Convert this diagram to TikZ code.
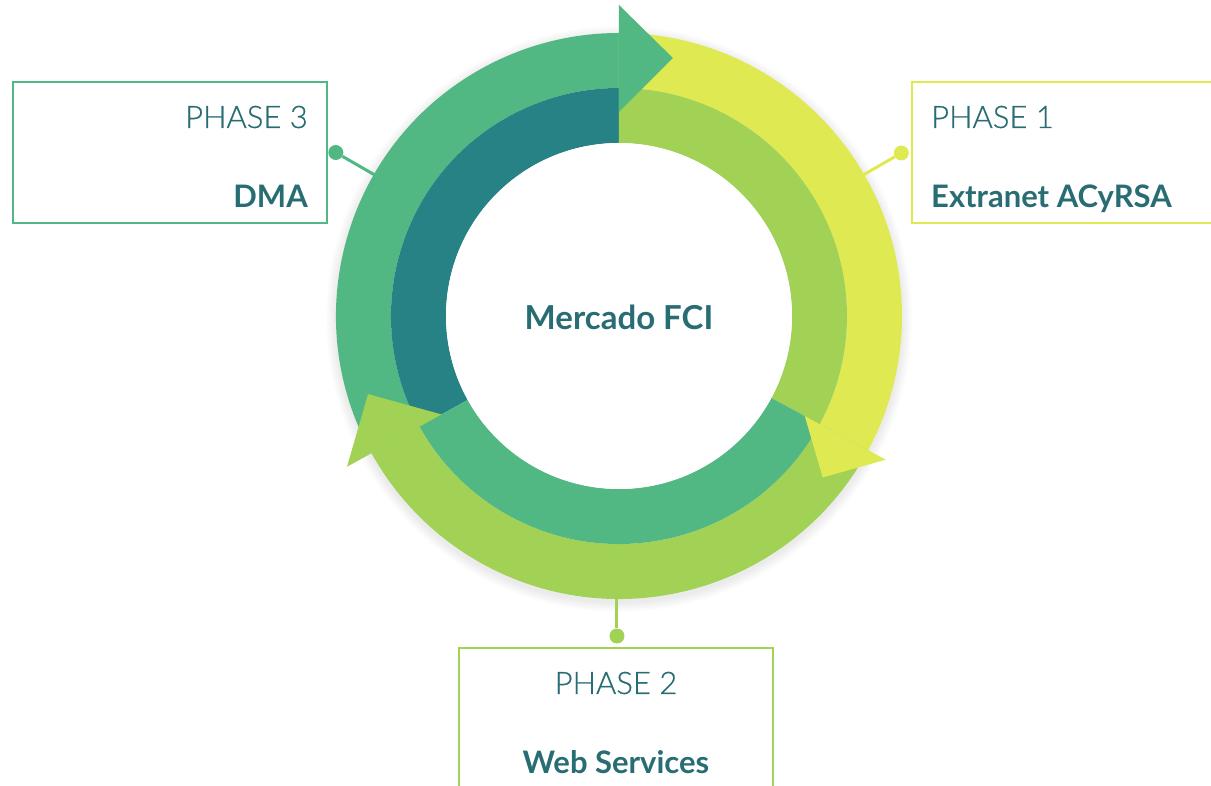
\documentclass[tikz,border=0pt]{standalone}
\usepackage{fontspec}
\setmainfont{Lato}
\newfontfamily\lightfont{Lato Light}[FakeBold=0.6]

\definecolor{phasegreen}{HTML}{52B883}
\definecolor{phaseyellow}{HTML}{DFEA52}
\definecolor{phaselime}{HTML}{A1D255}
\definecolor{phaseteal}{HTML}{268285}
\definecolor{phasetext}{HTML}{286C74}

\begin{document}
\begin{tikzpicture}[x=1pt,y=1pt,
    phasebox/.style={draw=#1, line width=1.5pt, minimum width=314pt, minimum height=141pt, inner sep=0pt},
    phasedot/.style={circle, fill=#1, minimum size=15pt, inner sep=0pt},
    phaselink/.style={draw=#1, line width=3pt},
    phasetitle/.style={font=\lightfont\fontsize{31}{36}\selectfont, text=phasetext, inner sep=0pt},
    phasename/.style={font=\bfseries\fontsize{31}{36}\selectfont, text=phasetext, inner sep=0pt}]
    \useasboundingbox (-619,-470) rectangle (592,316);

    % soft shadow round the ring
    \foreach \i in {1,...,10}
        \fill[black, opacity=0.007] (0,-3) circle (283+\i);

    % boxes and their links
    \node[phasebox=phasegreen] (p3box) at (-449,163.5) {};
    \node[phasebox=phaseyellow] (p1box) at (450,163.5) {};
    \node[phasebox=phaselime] (p2box) at (-3,-402.5) {};

    \node[phasedot=phasegreen] (p3dot) at (150:327) {};
    \node[phasedot=phaseyellow] (p1dot) at (30:326) {};
    \node[phasedot=phaselime] (p2dot) at (-2,-320) {};
    \coordinate (p3ring) at (150:270);
    \coordinate (p1ring) at (30:270);
    \coordinate (p2ring) at (-2,-270);
    \draw[phaselink=phasegreen] (p3dot) -- (p3ring);
    \draw[phaselink=phaseyellow] (p1dot) -- (p1ring);
    \draw[phaselink=phaselime] (p2dot) -- (p2ring);

    % outer ring
    \fill[phasegreen] (90:228) arc[start angle=90, end angle=209, radius=228] -- (209:283) arc[start angle=209, end angle=90, radius=283] -- cycle;
    \fill[phaseyellow] (-28.3:228) arc[start angle=-28.3, end angle=90, radius=228] -- (90:283) arc[start angle=90, end angle=-28.3, radius=283] -- cycle;
    \fill[phaselime] (209:228) arc[start angle=209, end angle=331.7, radius=228] -- (331.7:283) arc[start angle=331.7, end angle=209, radius=283] -- cycle;

    % inner ring
    \fill[phaseteal] (90:173) arc[start angle=90, end angle=209, radius=173] -- (209:228) arc[start angle=209, end angle=90, radius=228] -- cycle;
    \fill[phaselime] (-28.3:173) arc[start angle=-28.3, end angle=90, radius=173] -- (90:228) arc[start angle=90, end angle=-28.3, radius=228] -- cycle;
    \fill[phasegreen] (209:173) arc[start angle=209, end angle=331.7, radius=173] -- (331.7:228) arc[start angle=331.7, end angle=209, radius=228] -- cycle;

    % arrow heads
    \fill[phasegreen] (90:204) -- (90:311) -- (78.2:263.6) -- cycle;
    \fill[phaseyellow] (-28.3:211) -- (-28.3:303) -- (-38.4:260) -- cycle;
    \fill[phaselime] (209:203) -- (209:311) -- (197.3:262.8) -- cycle;

    \node[circle, fill=white, minimum size=346pt, inner sep=0pt] (hub) at (0,0) {};
    \node[phasename, font=\bfseries\fontsize{33}{38}\selectfont, anchor=base] (hubname) at (0,-14) {Mercado FCI};

    % texts
    \node[phasetitle, anchor=base east] (p3title) at (-311,188) {PHASE 3};
    \node[phasename, anchor=base east] (p3name) at (-311,108) {DMA};
    \node[phasetitle, anchor=base west] (p1title) at (312,188) {PHASE 1};
    \node[phasename, anchor=base west] (p1name) at (312,108) {Extranet ACyRSA};
    \node[phasetitle, anchor=base] (p2title) at (-3,-378) {PHASE 2};
    \node[phasename, anchor=base] (p2name) at (-3,-458) {Web Services};
\end{tikzpicture}
\end{document}
